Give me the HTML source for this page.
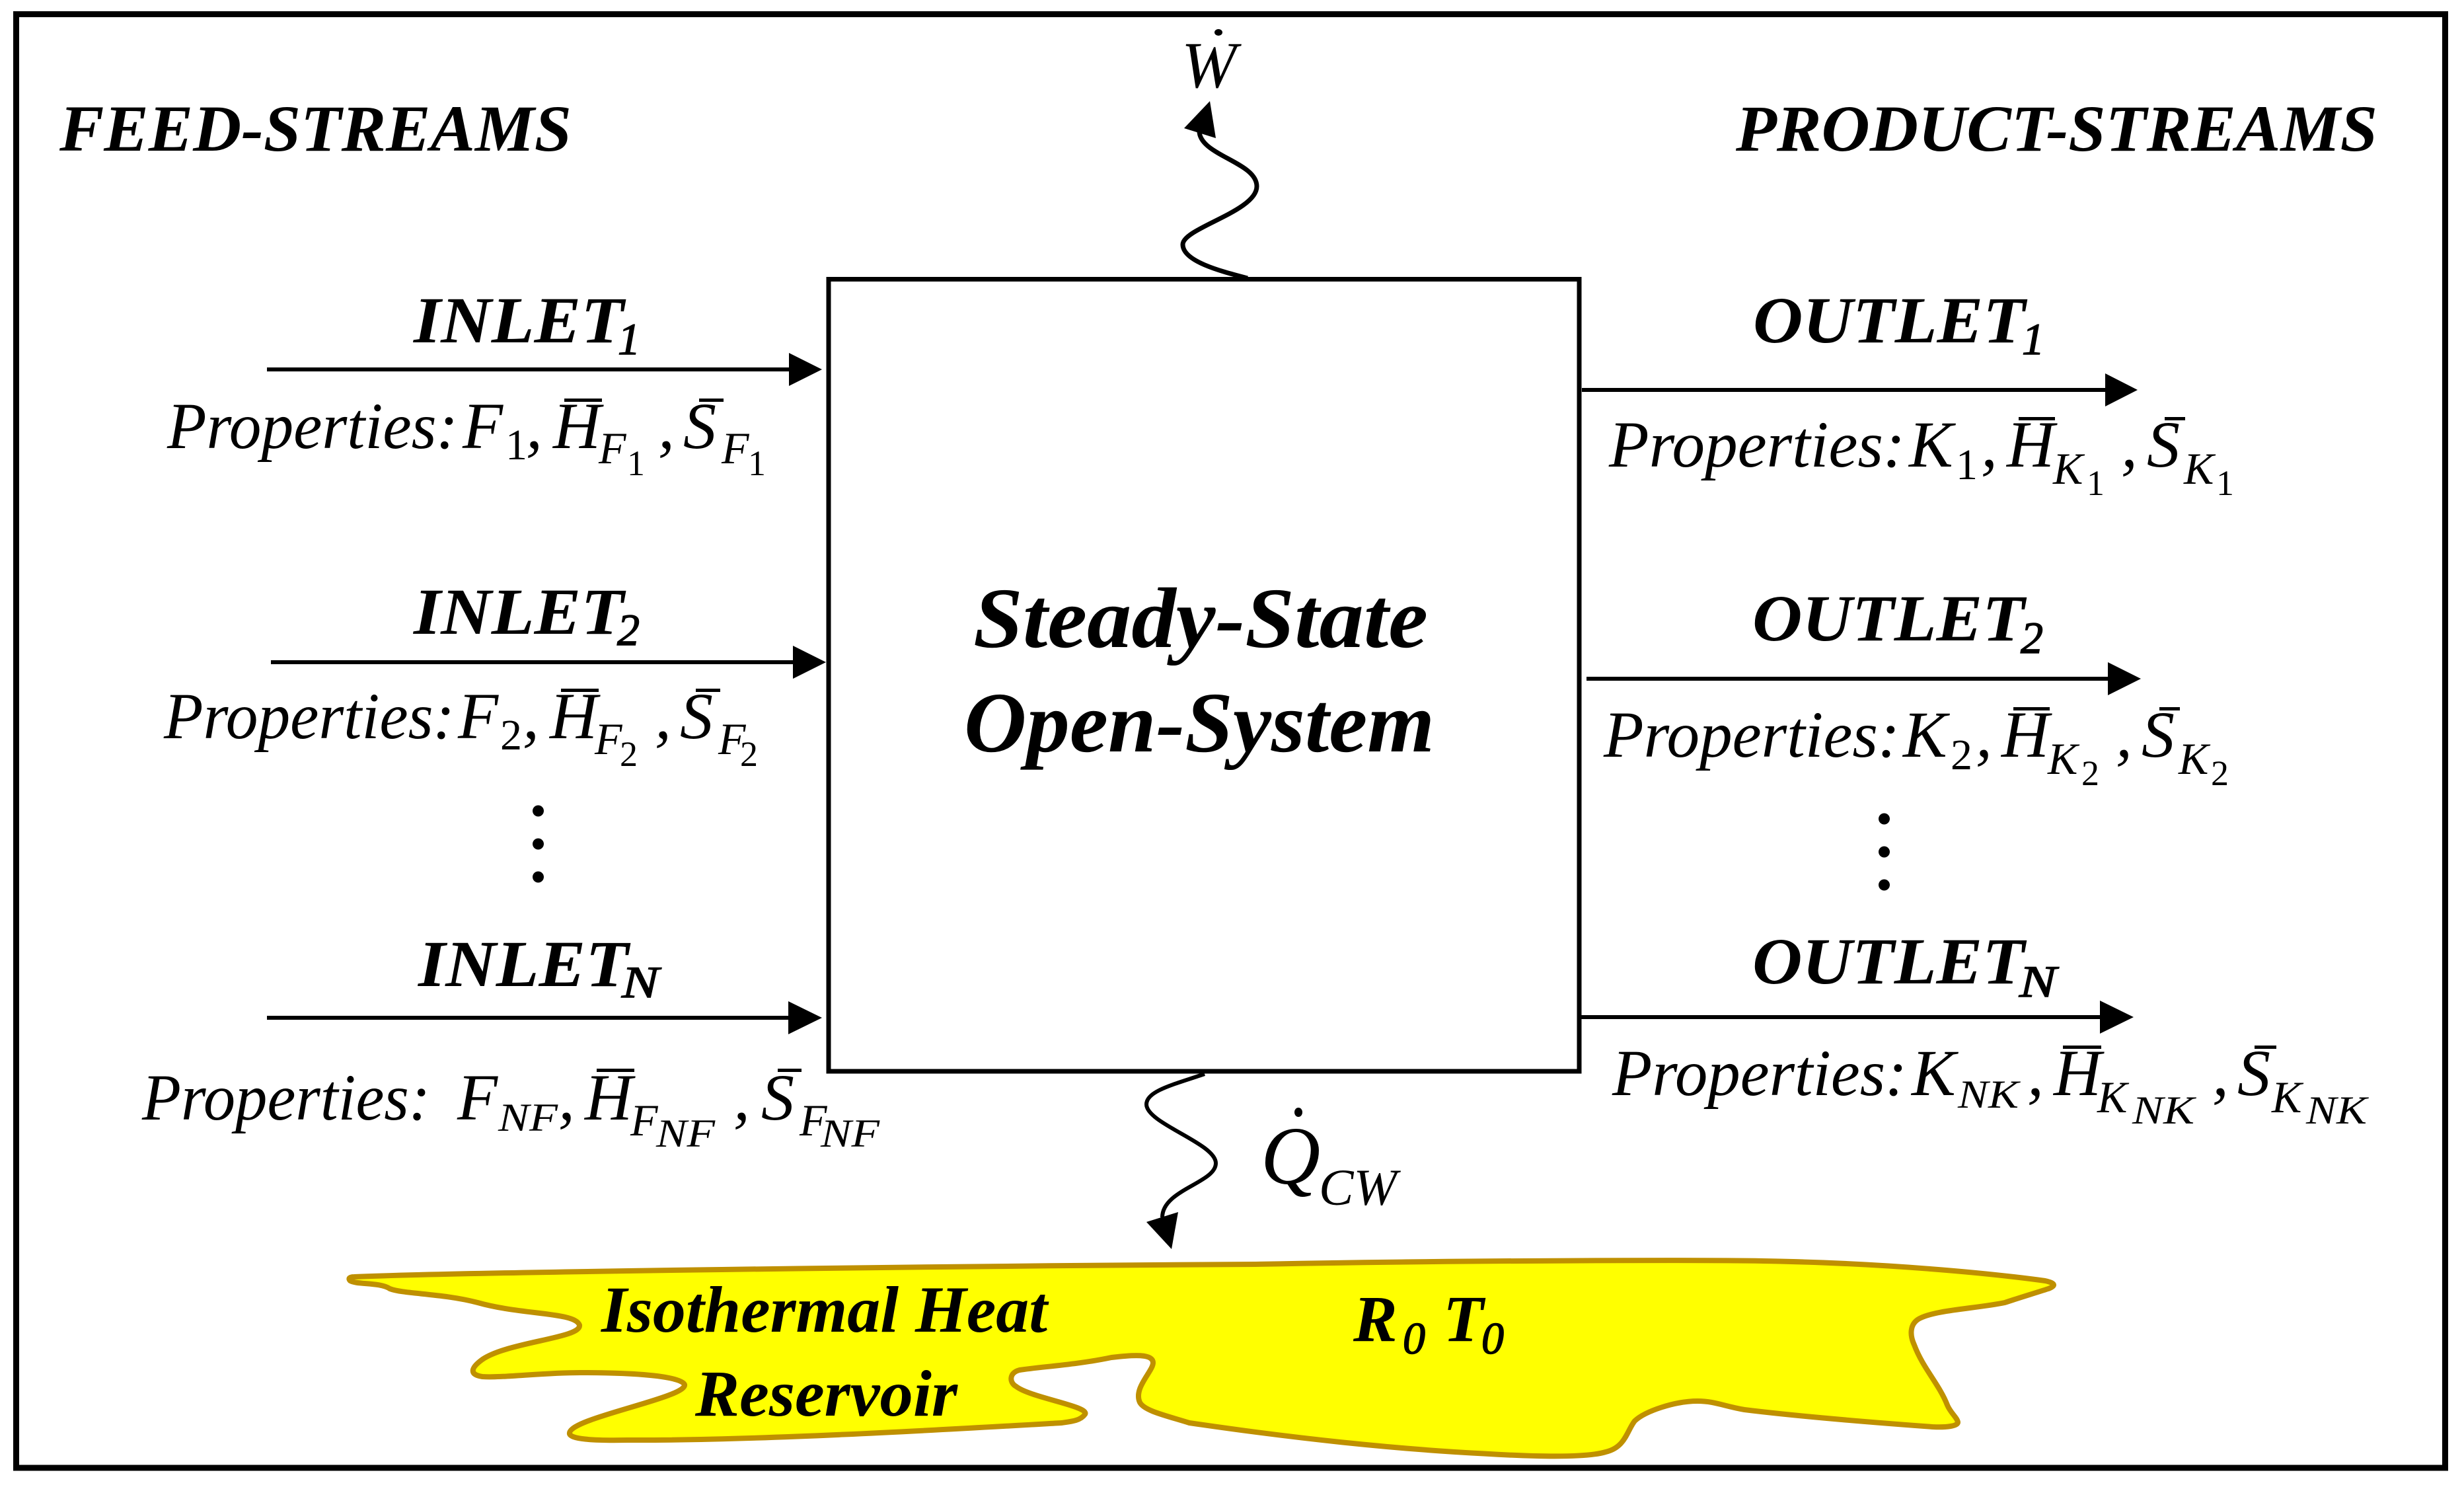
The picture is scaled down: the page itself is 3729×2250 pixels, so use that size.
<!DOCTYPE html>
<html lang="en"><head><meta charset="utf-8"><title>Steady-State Open-System</title>
<style>
html,body{margin:0;padding:0;background:#fff;width:3729px;height:2250px;overflow:hidden}
svg{display:block}
text{font-family:"Liberation Serif","Times New Roman",serif;fill:#000}
.b{font-weight:700;font-style:italic;font-size:100px}
.bs{font-style:italic;font-size:68px;stroke:#000;stroke-width:1.5px}
.i{font-style:italic;font-size:100px}
.s{font-style:italic;font-size:68px}
.n{font-size:66px}
.nn{font-size:54px}
.ss{font-style:italic;font-size:60px}
</style></head><body>
<svg xmlns="http://www.w3.org/2000/svg" width="3729" height="2250" viewBox="0 0 3729 2250">
<rect width="3729" height="2250" fill="#fff"/>
<rect x="24.5" y="21.5" width="3676" height="2199.5" fill="none" stroke="#000" stroke-width="9"/>

<path d="M536 1932 C700 1925 1400 1916 1900 1913 C2200 1907 2600 1906 2693 1908.5 C2850 1912 3000 1925 3095 1938 C3113 1942 3110 1946 3100 1950 C3075 1958 3055 1964 3034 1971 C2990 1980 2930 1982 2905 1995 C2890 2003 2890 2020 2897 2035 C2910 2070 2935 2095 2947 2126 C2952 2138 2962 2145 2963 2152 C2963 2158 2945 2160 2925 2159 C2830 2152 2720 2143 2640 2133 C2610 2128 2595 2120 2569 2120 C2535 2120 2490 2135 2474 2150 C2462 2165 2460 2190 2430 2197 C2400 2206 2320 2204 2246 2199.5 C2100 2192 1950 2175 1800 2153 C1765 2142 1732 2135 1725 2122 C1715 2100 1745 2075 1745 2062 C1745 2048 1715 2050 1682 2054 C1630 2065 1575 2068 1543 2073 C1527 2077 1527 2092 1538 2098 C1560 2115 1650 2128 1642 2140 C1635 2150 1620 2151 1606 2153 C1450 2162 1150 2180 950 2179 C900 2180 860 2178 862 2168 C865 2145 1040 2115 1036 2095 C1030 2082 960 2077 878 2077 C820 2077 760 2085 730 2083 C710 2080 712 2070 730 2057 C770 2030 880 2025 877 2005 C870 1985 790 1990 723 1971 C670 1957 610 1958 590 1950 C575 1940 540 1944 530 1938 C526 1934 530 1932 536 1932 Z" fill="#ffff00" stroke="#bf9000" stroke-width="8" stroke-linejoin="round"/>

<rect x="1254" y="422.5" width="1136" height="1198.5" fill="#fff" stroke="#000" stroke-width="7"/>

<path d="M1888 421 C1850 411 1790 396 1790 370 C1790 345 1902 320 1902 282 C1902 245 1815 235 1815 198" fill="none" stroke="#000" stroke-width="7"/>
<polygon points="1831,153 1792,194 1840,209" fill="#000"/>
<path d="M1823 1625 C1780 1640 1735 1650 1735 1671 C1735 1700 1840 1730 1840 1760 C1840 1790 1759 1800 1759 1842" fill="none" stroke="#000" stroke-width="6"/>
<polygon points="1773,1890 1735,1849 1783,1834" fill="#000"/>

<g fill="#000">
<rect x="404" y="556" width="795" height="6"/><polygon points="1194,534 1244,559 1194,584"/>
<rect x="410" y="999" width="795" height="6"/><polygon points="1200,977 1250,1002 1200,1027"/>
<rect x="404" y="1537" width="795" height="6"/><polygon points="1193,1515 1244,1540 1193,1565"/>
<rect x="2394" y="587" width="797" height="6"/><polygon points="3186,565 3235,590 3186,615"/>
<rect x="2401" y="1024" width="795" height="6"/><polygon points="3190,1002 3240,1027 3190,1052"/>
<rect x="2390" y="1536" width="793" height="6"/><polygon points="3178,1514 3229,1539 3178,1564"/>
<circle cx="814.5" cy="1227" r="8.5"/><circle cx="814.5" cy="1277" r="8.5"/><circle cx="814.5" cy="1327" r="8.5"/>
<circle cx="2851.5" cy="1239" r="8.5"/><circle cx="2851.5" cy="1289" r="8.5"/><circle cx="2851.5" cy="1339" r="8.5"/>
<ellipse cx="1844" cy="49" rx="6" ry="5"/>
<ellipse cx="1965" cy="1683" rx="6" ry="7"/>
</g>

<text class="b" x="90" y="228" textLength="775" lengthAdjust="spacingAndGlyphs">FEED-STREAMS</text>
<text class="b" x="2627" y="228" textLength="971" lengthAdjust="spacingAndGlyphs">PRODUCT-STREAMS</text>

<text class="b" x="626" y="518" textLength="318" lengthAdjust="spacingAndGlyphs">INLET</text><text class="bs" x="935" y="536">1</text>
<text class="b" x="626" y="959" textLength="318" lengthAdjust="spacingAndGlyphs">INLET</text><text class="bs" x="934" y="976">2</text>
<text class="b" x="633" y="1492" textLength="318" lengthAdjust="spacingAndGlyphs">INLET</text><text class="bs" x="941" y="1509" textLength="56" lengthAdjust="spacingAndGlyphs">N</text>
<text class="b" x="2653" y="518" textLength="412" lengthAdjust="spacingAndGlyphs">OUTLET</text><text class="bs" x="3060" y="536">1</text>
<text class="b" x="2652" y="969" textLength="412" lengthAdjust="spacingAndGlyphs">OUTLET</text><text class="bs" x="3058" y="988">2</text>
<text class="b" x="2652" y="1488" textLength="412" lengthAdjust="spacingAndGlyphs">OUTLET</text><text class="bs" x="3056" y="1508" textLength="56" lengthAdjust="spacingAndGlyphs">N</text>

<!-- Inlet 1 -->
<text class="i" x="253" y="678" textLength="440" lengthAdjust="spacingAndGlyphs">Properties:</text>
<text class="i" x="700" y="678">F</text><text class="n" x="765" y="695">1</text><text class="i" x="796" y="678">,</text>
<text class="i" x="837" y="678">H</text><rect x="854" y="603" width="57" height="5"/><text class="s" x="906" y="701">F</text><text class="nn" x="949" y="719">1</text><text class="i" x="996" y="678">,</text>
<text class="i" x="1034" y="678">S</text><rect x="1058" y="603" width="37" height="5"/><text class="s" x="1092" y="701">F</text><text class="nn" x="1132" y="719">1</text>

<!-- Inlet 2 -->
<text class="i" x="248" y="1117" textLength="440" lengthAdjust="spacingAndGlyphs">Properties:</text>
<text class="i" x="693" y="1117">F</text><text class="n" x="757" y="1134">2</text><text class="i" x="791" y="1117">,</text>
<text class="i" x="832" y="1117">H</text><rect x="849" y="1042" width="57" height="5"/><text class="s" x="900" y="1141">F</text><text class="nn" x="938" y="1159">2</text><text class="i" x="991" y="1117">,</text>
<text class="i" x="1029" y="1117">S</text><rect x="1053" y="1042" width="37" height="5"/><text class="s" x="1087" y="1141">F</text><text class="nn" x="1120" y="1159">2</text>

<!-- Inlet N -->
<text class="i" x="215" y="1694" textLength="436" lengthAdjust="spacingAndGlyphs">Properties:</text>
<text class="i" x="692" y="1694">F</text><text class="ss" x="754" y="1711" textLength="90" lengthAdjust="spacingAndGlyphs">NF</text><text class="i" x="845" y="1694">,</text>
<text class="i" x="885" y="1694">H</text><rect x="903" y="1617" width="57" height="5"/><text class="s" x="954" y="1718">F</text><text class="ss" x="993" y="1735" textLength="89" lengthAdjust="spacingAndGlyphs">NF</text><text class="i" x="1110" y="1694">,</text>
<text class="i" x="1152" y="1694">S</text><rect x="1177" y="1617" width="36" height="5"/><text class="s" x="1210" y="1718">F</text><text class="ss" x="1242" y="1735" textLength="89" lengthAdjust="spacingAndGlyphs">NF</text>

<!-- Outlet 1 -->
<text class="i" x="2435" y="706" textLength="448" lengthAdjust="spacingAndGlyphs">Properties:</text>
<text class="i" x="2889" y="706">K</text><text class="n" x="2960" y="725">1</text><text class="i" x="2998" y="706">,</text>
<text class="i" x="3037" y="706">H</text><rect x="3055" y="631" width="55" height="5"/><text class="s" x="3107" y="732">K</text><text class="nn" x="3158" y="749">1</text><text class="i" x="3210" y="706">,</text>
<text class="i" x="3249" y="706">S</text><rect x="3276" y="631" width="31" height="5"/><text class="s" x="3305" y="732">K</text><text class="nn" x="3354" y="749">1</text>

<!-- Outlet 2 -->
<text class="i" x="2427" y="1145" textLength="448" lengthAdjust="spacingAndGlyphs">Properties:</text>
<text class="i" x="2880" y="1145">K</text><text class="n" x="2952" y="1164">2</text><text class="i" x="2990" y="1145">,</text>
<text class="i" x="3029" y="1145">H</text><rect x="3047" y="1070" width="55" height="5"/><text class="s" x="3099" y="1171">K</text><text class="nn" x="3150" y="1188">2</text><text class="i" x="3202" y="1145">,</text>
<text class="i" x="3241" y="1145">S</text><rect x="3268" y="1070" width="31" height="5"/><text class="s" x="3297" y="1171">K</text><text class="nn" x="3346" y="1188">2</text>

<!-- Outlet N -->
<text class="i" x="2440" y="1657" textLength="446" lengthAdjust="spacingAndGlyphs">Properties:</text>
<text class="i" x="2893" y="1657">K</text><text class="ss" x="2963" y="1676" textLength="92" lengthAdjust="spacingAndGlyphs">NK</text><text class="i" x="3068" y="1657">,</text>
<text class="i" x="3108" y="1657">H</text><rect x="3122" y="1582" width="58" height="5"/><text class="s" x="3174" y="1683">K</text><text class="ss" x="3227" y="1700" textLength="94" lengthAdjust="spacingAndGlyphs">NK</text><text class="i" x="3348" y="1657">,</text>
<text class="i" x="3386" y="1657">S</text><rect x="3412" y="1582" width="33" height="5"/><text class="s" x="3438" y="1683">K</text><text class="ss" x="3490" y="1700" textLength="92" lengthAdjust="spacingAndGlyphs">NK</text>

<text style="font-weight:700;font-style:italic;font-size:130px" x="1473" y="979" textLength="688" lengthAdjust="spacingAndGlyphs">Steady-State</text>
<text style="font-weight:700;font-style:italic;font-size:130px" x="1459" y="1137" textLength="712" lengthAdjust="spacingAndGlyphs">Open-System</text>

<text class="i" x="1788" y="132">W</text>
<text class="i" style="font-size:125px" x="1908" y="1791">Q</text>
<text class="i" style="font-size:78px" x="1996" y="1823" textLength="118" lengthAdjust="spacingAndGlyphs">CW</text>

<text class="b" x="910" y="2015" textLength="675" lengthAdjust="spacingAndGlyphs">Isothermal Heat</text>
<text class="b" x="1052" y="2142" textLength="397" lengthAdjust="spacingAndGlyphs">Reservoir</text>
<text class="b" x="2048" y="2029">R</text><text class="bs" x="2123" y="2048">0</text>
<text class="b" x="2184" y="2029">T</text><text class="bs" x="2242" y="2048">0</text>
</svg>
</body></html>
